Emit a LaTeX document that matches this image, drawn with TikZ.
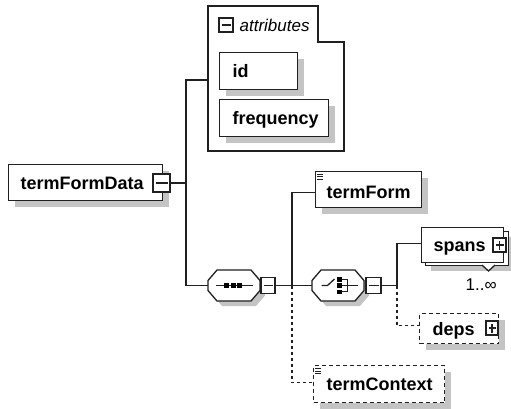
\documentclass[tikz,border=0pt]{standalone}
\usepackage{fontspec}
\setmainfont{Liberation Sans}
\usetikzlibrary{shadows}
\definecolor{shadowgray}{HTML}{C4C4C4}
\definecolor{linecol}{HTML}{202020}
\tikzset{
  octo/.pic={
    \fill[shadowgray, shift={(5,5)}] (-17,-15.5) -- (17,-15.5) -- (26,-5) -- (26,5) -- (17,15.5) -- (-17,15.5) -- (-26,5) -- (-26,-5) -- cycle;
    \draw[fill=white] (-17,-15.5) -- (17,-15.5) -- (26,-5) -- (26,5) -- (17,15.5) -- (-17,15.5) -- (-26,5) -- (-26,-5) -- cycle;
  }
}
\begin{document}
\begin{tikzpicture}[x=1pt,y=-1pt,line width=1.3pt,draw=linecol,
  lbl/.style={font=\fontsize{18}{20}\selectfont\bfseries, text height=13pt, text depth=0pt, align=left},
  plainbox/.style={draw, fill=white, anchor=north west, inner ysep=0pt, lbl},
  elem/.style={plainbox, general shadow={fill=shadowgray, shadow xshift=6pt, shadow yshift=-6pt}},
  optelem/.style={elem, dash pattern=on 4pt off 3pt},
  expminus/.style={draw, fill=white, minimum width=14pt, minimum height=15pt, inner sep=0pt, outer sep=0pt,
    path picture={\draw[line width=1.2pt] ([xshift=2.5pt]path picture bounding box.west) -- ([xshift=-2.5pt]path picture bounding box.east);}},
  expplus/.style={draw, fill=white, minimum width=14pt, minimum height=15pt, inner sep=0pt, outer sep=0pt,
    path picture={\draw[line width=1.2pt] ([xshift=2.5pt]path picture bounding box.west) -- ([xshift=-2.5pt]path picture bounding box.east);
      \draw[line width=1.2pt] ([yshift=2.5pt]path picture bounding box.south) -- ([yshift=-2.5pt]path picture bounding box.north);}},
  optconn/.style={dash pattern=on 3pt off 3pt},
  compnode/.style={inner sep=0pt, outer sep=0pt, minimum width=52pt, minimum height=31pt},
]
\fill[white] (0,0) rectangle (511,408);
\useasboundingbox (0,0) rectangle (511,408);

% termFormData
\node[elem, text width=130pt, inner xsep=12pt, minimum height=36pt] (tfd) at (8,164) {termFormData};
\node[expminus, minimum width=17pt, minimum height=18pt] (tfdx) at (161.5,183) {};

% attributes group
\coordinate (attrW) at (208,80);
\draw[fill=white] (208,6) -- (318,6) -- (318,42) -- (344,42) -- (344,151) -- (208,151) -- cycle;
\node[expminus, minimum height=14pt] (attrx) at (226,25) {};
\node[anchor=west, font=\fontsize{17}{20}\selectfont\itshape, inner sep=0pt] (attrt) at (239,25) {attributes};
\node[elem, text width=52pt, inner xsep=13pt, minimum height=37pt] (id) at (219,52) {id};
\node[elem, text width=83pt, inner xsep=13pt, minimum height=37pt] (freq) at (219,99) {frequency};

% sequence compositor
\node[compnode] (seq) at (234,285.5) {};
\pic at (seq.center) {octo};
\node[expminus, minimum height=16pt] (seqx) at (268,285.5) {};
\draw (216,285.5) -- (253,285.5);
\fill (224,283) rectangle ++(5,5);
\fill (230.5,283) rectangle ++(5,5);
\fill (237,283) rectangle ++(5,5);

% choice compositor
\node[compnode] (cho) at (338,285.5) {};
\pic at (cho.center) {octo};
\node[expminus, minimum width=15pt, minimum height=16pt] (chox) at (373.5,285.5) {};
\draw (321.5,285.5) -- (327.5,285.5) -- (334.5,279);
\fill (337,277) rectangle ++(5,4.5);
\fill (337,283.2) rectangle ++(5,4.5);
\fill (337,289.5) rectangle ++(5,4.5);
\draw (342,279.5) -- (347.5,279.5) -- (347.5,291.5) -- (342,291.5);
\draw (342,285.5) -- (358,285.5);

% termForm
\node[elem, text width=84pt, inner xsep=11pt, minimum height=36pt, text height=17pt] (tf) at (315,171) {termForm};
\draw[line width=1pt] (317,174) -- (323,174) (317,176.5) -- (323,176.5) (317,179) -- (323,179);

% spans
\node[draw, fill=white, anchor=north west, minimum width=83pt, minimum height=34pt, inner sep=0pt,
  general shadow={fill=shadowgray, shadow xshift=5pt, shadow yshift=-5pt}] (spansback) at (425,231) {};
\node[plainbox, text width=58pt, inner xsep=12pt, minimum height=35pt] (spans) at (421,227) {spans};
\draw[fill=white] (482,265) -- (488.5,271) -- (495,265);
\node[expplus, minimum width=13pt, minimum height=14pt] (spansx) at (499.5,245) {};
\node[anchor=west, font=\fontsize{17}{20}\selectfont, inner sep=0pt] (occ) at (465,285) {1..∞};

% deps
\node[optelem, text width=53pt, inner xsep=13pt, minimum height=30pt] (deps) at (419,313) {deps};
\node[expplus, minimum width=12pt, minimum height=14pt] (depsx) at (492,328) {};

% termContext
\node[optelem, text width=105pt, inner xsep=13pt, minimum height=37pt] (tc) at (313,365) {termContext};
\draw[line width=1pt] (315,368.5) -- (321,368.5) (315,371) -- (321,371) (315,373.5) -- (321,373.5);

% connectors
\coordinate (jA) at (186,183);
\coordinate (jB) at (292,285.5);
\coordinate (jC) at (397,285.5);
\draw (tfdx.east) -- (jA);
\draw (attrW) -| (jA) |- (seq.west);
\draw (seqx.east) -- (cho.west);
\draw ([yshift=-3pt]tf.west) -| (jB);
\draw[optconn] (jB) |- ([yshift=1.5pt]tc.west);
\draw (chox.east) -- (jC) |- ([yshift=1.5pt]spans.west);
\draw[optconn] (jC) |- ([yshift=3pt]deps.west);
\end{tikzpicture}
\end{document}
